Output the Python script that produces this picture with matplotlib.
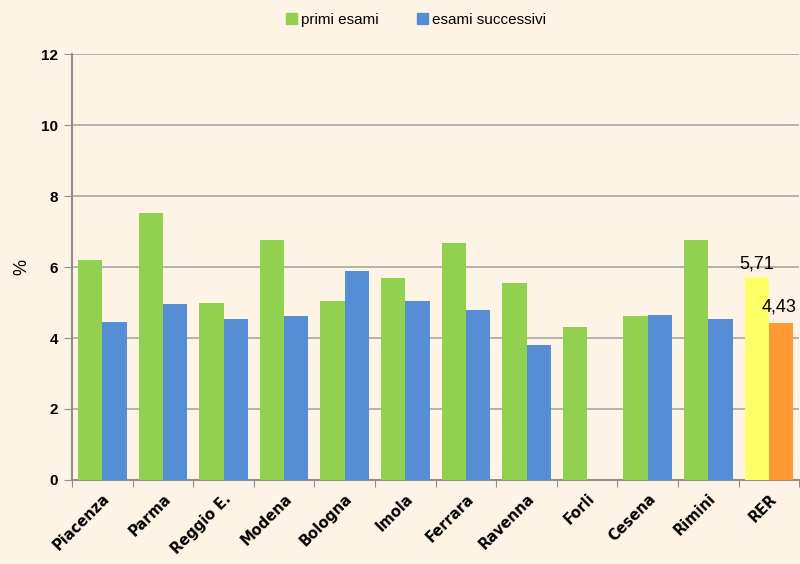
import matplotlib
matplotlib.use("Agg")
import matplotlib.pyplot as plt
import numpy as np
from matplotlib.patches import Patch

categories = ["Piacenza", "Parma", "Reggio E.", "Modena", "Bologna", "Imola",
              "Ferrara", "Ravenna", "Forli", "Cesena", "Rimini", "RER"]
primi = [6.20, 7.52, 4.99, 6.76, 5.04, 5.69, 6.68, 5.55, 4.31, 4.62, 6.76, 5.71]
successivi = [4.45, 4.96, 4.54, 4.62, 5.89, 5.04, 4.79, 3.80, np.nan, 4.65, 4.54, 4.43]
yticks = [0, 2, 4, 6, 8, 10, 12]

green, blue = "#92d050", "#558ed5"
yellow, orange = "#ffff66", "#ff9933"

fig = plt.figure(figsize=(8.0, 5.64), dpi=100, facecolor="#fdf4e6")
ax = fig.add_axes([0.09, 0.149, 0.909, 0.755])
ax.set_facecolor("none")

x = np.arange(len(categories))
w = 0.4
c1 = [green] * (len(categories) - 1) + [yellow]
c2 = [blue] * (len(categories) - 1) + [orange]
ax.bar(x - w / 2, primi, w, color=c1, zorder=3)
ax.bar(x + w / 2, successivi, w, color=c2, zorder=3)

ax.text(x[-1] - w / 2, primi[-1] + 0.15, "5,71", ha="center",
        va="bottom", fontsize=13, family="Liberation Sans", zorder=4)
ax.text(x[-1] + w / 2 - 0.03, successivi[-1] + 0.2, "4,43", ha="center",
        va="bottom", fontsize=13, family="Liberation Sans", zorder=4)

ax.set_xlim(-0.5, len(categories) - 0.5)
ax.set_ylim(0, 12)
ax.set_yticks(yticks)
ax.set_yticklabels([str(t) for t in yticks], fontsize=11, fontweight="bold",
                   family="Liberation Sans")
ax.yaxis.grid(True, color="#a6a6a6", linewidth=1.2, zorder=0)
ax.set_axisbelow(True)

ax.set_xticks(np.arange(-0.5, len(categories) + 0.5, 1.0), minor=False)
ax.set_xticklabels([])
ax.set_xticks(x, minor=True)
ax.set_xticklabels(categories, minor=True, rotation=45, ha="right",
                   rotation_mode="anchor", fontsize=10.5, fontweight="bold",
                   family="DejaVu Sans")
ax.tick_params(axis="x", which="minor", length=0, pad=8)
ax.tick_params(axis="x", which="major", length=5, color="#909090", direction="out")
ax.tick_params(axis="y", length=6, color="#909090", direction="out", pad=4)

for s in ["top", "right"]:
    ax.spines[s].set_visible(False)
for s in ["left", "bottom"]:
    ax.spines[s].set_color("#909090")
    ax.spines[s].set_linewidth(1.5)

ax.set_ylabel("%", fontsize=13, family="Liberation Sans", labelpad=8)

handles = [Patch(color=green), Patch(color=blue)]
fig.legend(handles, ["primi esami", "esami successivi"], loc="center",
           bbox_to_anchor=(0.52, 0.965), ncol=2, frameon=False,
           prop={"family": "Liberation Sans", "size": 11},
           handlelength=0.7, handleheight=0.7, handletextpad=0.3, columnspacing=2.5)

fig.savefig("out.png", dpi=100, facecolor=fig.get_facecolor())
